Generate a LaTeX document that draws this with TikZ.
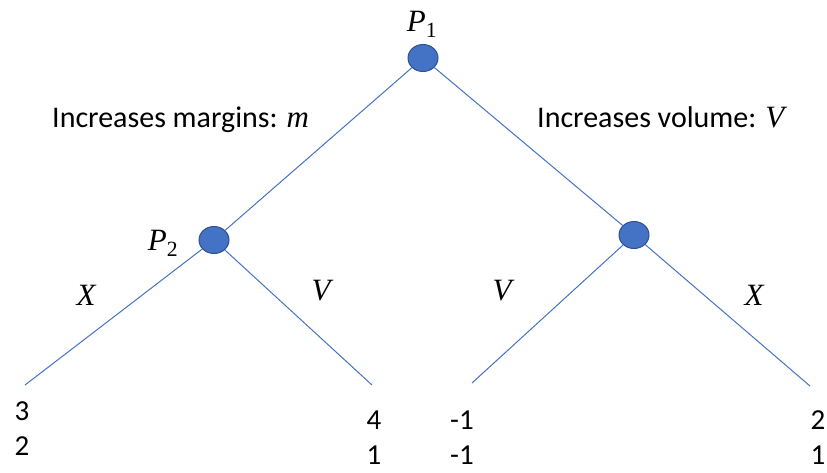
\documentclass[tikz,border=0pt]{standalone}
\usepackage{fontspec}
\usetikzlibrary{shapes.geometric}
\setmainfont{Carlito}
\newfontfamily\mfont{Liberation Serif}[Ligatures=TeX]
\definecolor{nodeblue}{HTML}{4472C4}
\definecolor{nodeedge}{HTML}{2F528F}
\begin{document}
\begin{tikzpicture}[x=1pt,y=-1pt,
  dec/.style={ellipse,draw=nodeedge,line width=1pt,fill=nodeblue,minimum width=30pt,minimum height=27pt,inner sep=0pt},
  edge/.style={draw=nodeblue,line width=1pt},
  txt/.style={font=\fontsize{30}{33}\selectfont,inner sep=0pt},
  mth/.style={font=\fontsize{31}{33}\selectfont\mfont\itshape,inner sep=0pt},
  pay/.style={font=\fontsize{29}{34.5}\selectfont,inner sep=0pt,align=center,anchor=base,text depth=0pt}]
\useasboundingbox (0,0) rectangle (827,472);
\node[dec] (p1) at (423,58) {};
\node[dec] (p2) at (214,240) {};
\node[dec] (p3) at (634,235) {};
\coordinate (l1) at (25,385);
\coordinate (l2) at (372,385);
\coordinate (l3) at (472,383);
\coordinate (l4) at (810,386);
\draw[edge] (p1) -- (p2);
\draw[edge] (p1) -- (p3);
\draw[edge] (p2) -- (l1);
\draw[edge] (p2) -- (l2);
\draw[edge] (p3) -- (l3);
\draw[edge] (p3) -- (l4);
\node[mth] (t1) at (422,24) {P\textsubscript{\upshape 1}};
\node[mth] (t2) at (163,243) {P\textsubscript{\upshape 2}};
\node[txt,anchor=base west] (lm) at (52,127) {Increases margins: {\mfont\itshape\fontsize{31}{33}\selectfont m}};
\node[txt,anchor=base west] (lv) at (537,127) {Increases volume: {\mfont\itshape\fontsize{31}{33}\selectfont V}};
\node[mth] (e1) at (86,295) {X};
\node[mth] (e2) at (321,291) {V};
\node[mth] (e3) at (502,291) {V};
\node[mth] (e4) at (754,295) {X};
\node[pay] (a1) at (22,455) {3\\2};
\node[pay] (a2) at (374,464) {4\\1};
\node[pay] (a3) at (462,464) {-1\\-1};
\node[pay] (a4) at (818,464) {2\\1};
\end{tikzpicture}
\end{document}
